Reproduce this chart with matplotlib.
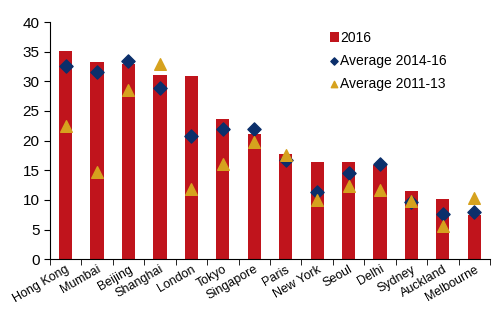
import matplotlib
matplotlib.use("Agg")
import matplotlib.pyplot as plt
import numpy as np

plt.rcParams['font.family'] = ['Liberation Sans', 'DejaVu Sans']

# Data
cities = ['Hong Kong', 'Mumbai', 'Beijing', 'Shanghai', 'London', 'Tokyo',
          'Singapore', 'Paris', 'New York', 'Seoul', 'Delhi', 'Sydney',
          'Auckland', 'Melbourne']
val_2016 = [35.1, 33.2, 32.9, 31.0, 30.9, 23.7, 21.1, 17.7, 16.4, 16.4,
            15.9, 11.5, 10.1, 7.5]
avg_14_16 = [32.6, 31.5, 33.4, 28.8, 20.8, 21.9, 22.0, 16.8, 11.3, 14.5,
             16.0, 9.7, 7.7, 8.0]
avg_11_13 = [22.4, 14.7, 28.5, 33.0, 11.8, 16.0, 19.8, 17.5, 10.0, 12.3,
             11.6, 9.8, 5.6, 10.4]

red = '#C0141C'
navy = '#0B2F6B'
gold = '#D6A21E'

fig = plt.figure(figsize=(4.99, 3.24), dpi=100)
ax = fig.add_axes([0.10, 0.20, 0.882, 0.732])

x = np.arange(len(cities))
b = ax.bar(x, val_2016, width=0.42, color=red, label='2016', zorder=2)
d = ax.scatter(x, avg_14_16, marker='D', s=45, color=navy,
               label='Average 2014-16', zorder=3)
t = ax.scatter(x, avg_11_13, marker='^', s=70, color=gold,
               label='Average 2011-13', zorder=3)

ax.set_xlim(-0.5, len(cities) - 0.5)
ax.set_ylim(0, 40)
ax.set_yticks(range(0, 41, 5))
ax.tick_params(axis='y', labelsize=11, length=4, direction='out')

# category labels centered, tick marks between categories
ax.set_xticks(x)
ax.set_xticklabels(cities, rotation=30, ha='right', rotation_mode='anchor',
                   fontsize=9)
ax.tick_params(axis='x', length=0, pad=3)
ax.set_xticks(np.arange(-0.5, len(cities), 1), minor=True)
ax.tick_params(axis='x', which='minor', length=4, direction='out')

for s in ['top', 'right']:
    ax.spines[s].set_visible(False)

ax.legend(handles=[b, d, t], loc='upper left', bbox_to_anchor=(0.615, 1.005),
          frameon=False, fontsize=10, handlelength=0.6, handletextpad=0.1,
          labelspacing=0.65, borderpad=0.2, markerscale=0.55)

fig.savefig('out.png', dpi=100)
